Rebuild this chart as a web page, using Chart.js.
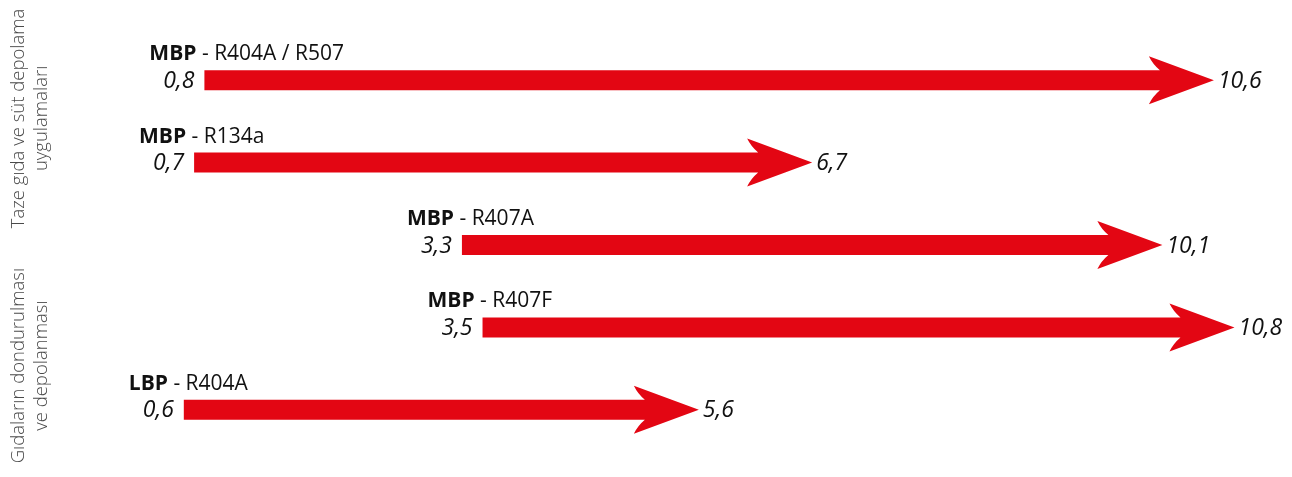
<!DOCTYPE html>
<html>
<head>
<meta charset="utf-8">
<script src="https://cdn.jsdelivr.net/npm/chart.js@4/dist/chart.umd.min.js"></script>
<style>
  html, body { margin: 0; padding: 0; background: #fff; }
  #wrap { width: 1292px; height: 477px; position: relative; }
</style>
</head>
<body>
<div id="wrap"><canvas id="chart"></canvas></div>
<script>
// veriler
const systems = ['MBP', 'MBP', 'MBP', 'MBP', 'LBP'];
const refrigerants = ['R404A / R507', 'R134a', 'R407A', 'R407F', 'R404A'];
const startValues = [0.8, 0.7, 3.3, 3.5, 0.6];
const endValues = [10.6, 6.7, 10.1, 10.8, 5.6];
const groupLabels = [
    ['Taze gıda ve süt depolama', 'uygulamaları'],
    ['Gıdaların dondurulması', 've depolanması']
];
// grup başlığının ortalandığı satırlar
const groupRows = [[0, 1], [3, 4]];

const RED = '#e30613';
const FONT = '"Open Sans", "Noto Sans", sans-serif';

function fmt(v) { return String(v).replace('.', ','); }

const arrowPlugin = {
    id: 'arrows',
    afterDatasetsDraw: function (chart) {
        const ctx = chart.ctx;
        const meta = chart.getDatasetMeta(0);
        ctx.save();
        meta.data.forEach(function (bar, i) {
            const x0 = bar.base, x1 = bar.x, y = bar.y;
            const sh = 10, hh = 24, hl = 65, notch = 11;
            // ok gövdesi + başı
            ctx.fillStyle = RED;
            ctx.beginPath();
            ctx.moveTo(x0, y - sh);
            ctx.lineTo(x1 - hl + notch, y - sh);
            ctx.quadraticCurveTo(x1 - hl + notch * 0.35, y - sh - 6, x1 - hl, y - hh);
            ctx.lineTo(x1, y);
            ctx.lineTo(x1 - hl, y + hh);
            ctx.quadraticCurveTo(x1 - hl + notch * 0.35, y + sh + 6, x1 - hl + notch, y + sh);
            ctx.lineTo(x0, y + sh);
            ctx.closePath();
            ctx.fill();

            // değer etiketleri
            ctx.fillStyle = '#111';
            ctx.font = 'italic 23px ' + FONT;
            ctx.textBaseline = 'middle';
            ctx.textAlign = 'right';
            ctx.fillText(fmt(startValues[i]), x0 - 10, y + 1);
            ctx.textAlign = 'left';
            ctx.fillText(fmt(endValues[i]), x1 + 4, y + 1);

            // sistem / soğutucu etiketi
            const startW = ctx.measureText(fmt(startValues[i])).width;
            let lx = x0 - 10 - startW - 14;
            ctx.textBaseline = 'alphabetic';
            ctx.font = 'bold 21px ' + FONT;
            ctx.fillText(systems[i], lx, y - 20);
            lx += ctx.measureText(systems[i]).width;
            ctx.font = '21px ' + FONT;
            ctx.fillText(' - ' + refrigerants[i], lx, y - 20);
        });

        // grup başlıkları (dikey)
        ctx.fillStyle = '#4a4a4a';
        ctx.font = '300 18.5px ' + FONT;
        ctx.textAlign = 'center';
        ctx.textBaseline = 'middle';
        groupLabels.forEach(function (lines, g) {
            const yA = meta.data[groupRows[g][0]].y;
            const yB = meta.data[groupRows[g][1]].y;
            ctx.save();
            ctx.translate(0, (yA + yB) / 2 - 3);
            ctx.rotate(-Math.PI / 2);
            lines.forEach(function (t, k) {
                ctx.fillText(t, 0, 19 + k * 23);
            });
            ctx.restore();
        });
        ctx.restore();
    }
};

new Chart(document.getElementById('chart'), {
    type: 'bar',
    data: {
        labels: refrigerants,
        datasets: [{
            data: startValues.map(function (s, i) { return [s, endValues[i]]; }),
            backgroundColor: 'rgba(0,0,0,0)',
            barThickness: 20
        }]
    },
    options: {
        indexAxis: 'y',
        responsive: true,
        maintainAspectRatio: false,
        animation: false,
        layout: { padding: { left: 122, right: 6, top: 39, bottom: 26 } },
        plugins: { legend: { display: false }, tooltip: { enabled: false } },
        scales: {
            x: { display: false, min: 0, max: 11.3 },
            y: { display: false }
        }
    },
    plugins: [arrowPlugin]
});
</script>
</body>
</html>
